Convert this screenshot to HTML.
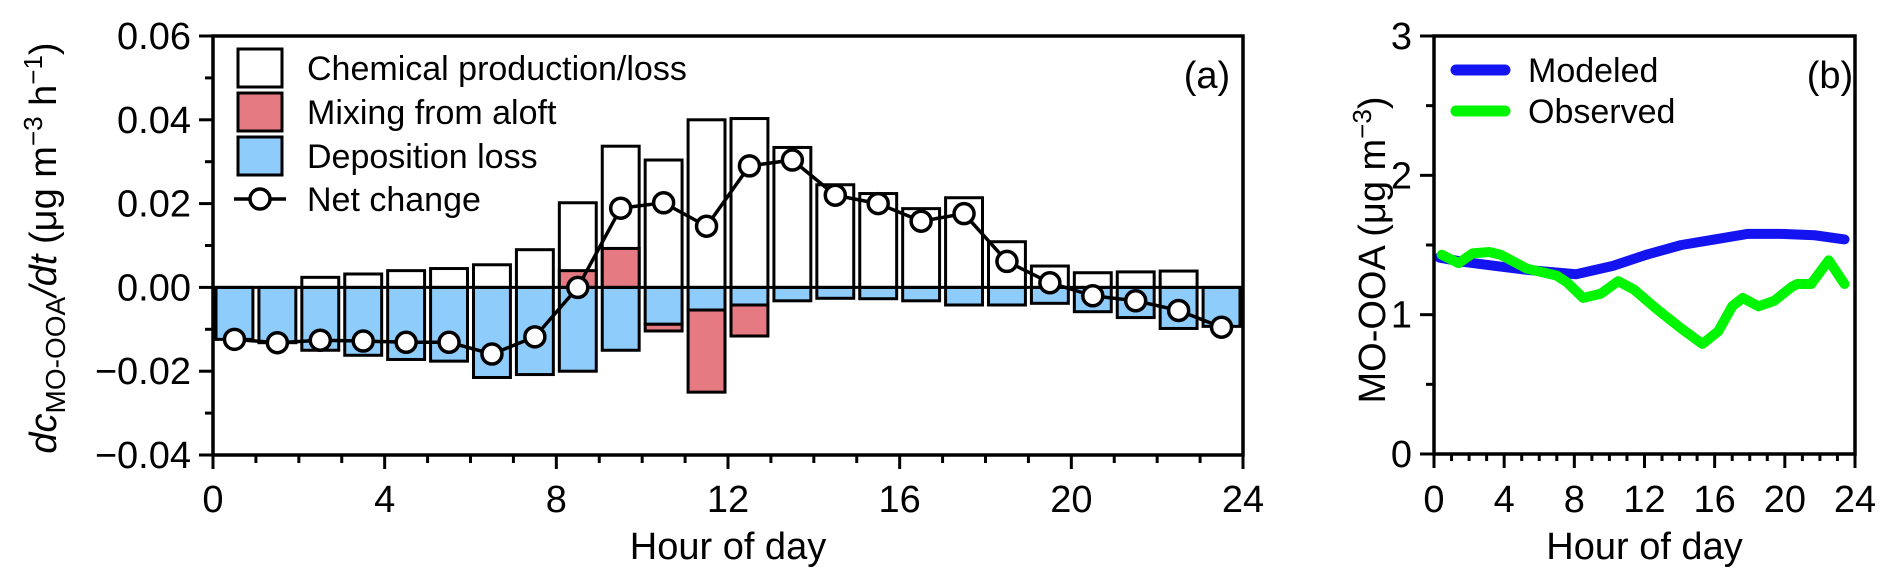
<!DOCTYPE html>
<html><head><meta charset="utf-8"><style>
html,body{margin:0;padding:0;background:#fff;}
svg{display:block;font-family:"Liberation Sans",Arial,sans-serif;}
</style></head><body>
<svg id="chart" width="1892" height="585" viewBox="0 0 1892 585" xmlns="http://www.w3.org/2000/svg"></svg>
<script>
// ---------- Panel (a) data ----------
const hoursA = [0,1,2,3,4,5,6,7,8,9,10,11,12,13,14,15,16,17,18,19,20,21,22,23];
const chemValues = [0,0,0.0024,0.0032,0.004,0.0045,0.0054,0.009,0.0202,0.0337,0.0304,0.040,0.0403,0.0334,0.0245,0.0224,0.0188,0.0214,0.0109,0.0051,0.0035,0.0037,0.0039,0];
const mixValues = [0,0,0,0,0,0,0,0,0.004,0.0093,-0.0016,-0.0196,-0.0074,0,0,0,0,0,0,0,0,0,0,0];
const depValues = [-0.0124,-0.0132,-0.015,-0.0162,-0.0172,-0.0176,-0.0215,-0.0208,-0.020,-0.015,-0.0088,-0.0054,-0.0042,-0.0032,-0.0026,-0.0027,-0.0032,-0.0042,-0.0042,-0.0038,-0.0058,-0.0072,-0.0098,-0.0093];
const netValues = [-0.0124,-0.0132,-0.0126,-0.0128,-0.0131,-0.0131,-0.0159,-0.0118,0,0.0189,0.0202,0.0146,0.029,0.0304,0.022,0.020,0.0158,0.0176,0.0062,0.0011,-0.002,-0.0032,-0.0055,-0.0095];
const yTicksA = ["−0.04","−0.02","0.00","0.02","0.04","0.06"];
const yTickValsA = [-0.04,-0.02,0,0.02,0.04,0.06];
const xTicksA = [0,4,8,12,16,20,24];
// ---------- Panel (b) data ----------
const modHours = [0.3,1.6,3.5,5.4,8.1,10.2,12.1,14.1,16,17.9,19.8,21.7,23.4];
const modValues = [1.41,1.38,1.35,1.32,1.29,1.35,1.43,1.5,1.54,1.58,1.58,1.57,1.54];
const obsHours = [0.44,1.4,2.2,3.15,3.8,5.3,7,7.6,8.5,9.5,10.5,11.4,12.7,14.1,15.3,16.2,17,17.6,18.5,19.4,20.4,20.7,21.5,22.5,23.4];
const obsValues = [1.43,1.37,1.44,1.45,1.43,1.33,1.28,1.23,1.12,1.15,1.24,1.18,1.04,0.9,0.79,0.88,1.06,1.12,1.06,1.1,1.2,1.22,1.22,1.39,1.22];
const yTicksB = [0,1,2,3];
const xTicksB = [0,4,8,12,16,20,24];

const NS="http://www.w3.org/2000/svg";
const svg=document.getElementById('chart');
function mk(tag,attrs,parent){const e=document.createElementNS(NS,tag);for(const k in attrs)e.setAttribute(k,attrs[k]);(parent||svg).appendChild(e);return e;}
const FS=38;

// Panel a axes
const aL=213,aR=1243,aT=36,aB=455;
const xA=h=>aL+h*(aR-aL)/24;
const yA=v=>aB-(v+0.04)*(aB-aT)/0.10;
const bw=(aR-aL)/24*0.86;
const gA=mk('g',{});



hoursA.forEach((h,i)=>{
  const cx=xA(h+0.5);
  const d=mk('rect',{x:cx-bw/2,y:yA(0),width:bw,height:yA(depValues[i])-yA(0),fill:'#8ecdfb',stroke:'#000','stroke-width':3},gA);
  
  
  if(chemValues[i]>0){
    const c=mk('rect',{x:cx-bw/2,y:yA(chemValues[i]),width:bw,height:yA(0)-yA(chemValues[i]),fill:'#fff',stroke:'#000','stroke-width':3},gA);
    
    
  }
  const m=mixValues[i];
  if(m>0){
    const r=mk('rect',{x:cx-bw/2,y:yA(m),width:bw,height:yA(0)-yA(m),fill:'#e67a82',stroke:'#000','stroke-width':3},gA);
    
    
  } else if(m<0){
    const base=depValues[i];
    const r=mk('rect',{x:cx-bw/2,y:yA(base),width:bw,height:yA(base+m)-yA(base),fill:'#e67a82',stroke:'#000','stroke-width':3},gA);
    
    
  }
});
mk('line',{x1:aL,x2:aR,y1:yA(0),y2:yA(0),stroke:'#000','stroke-width':3},gA);
const netPts=hoursA.map((h,i)=>xA(h+0.5)+','+yA(netValues[i])).join(' ');
const nl=mk('polyline',{points:netPts,fill:'none',stroke:'#000','stroke-width':3.5},gA);


hoursA.forEach((h,i)=>{
  const c=mk('circle',{cx:xA(h+0.5),cy:yA(netValues[i]),r:10,fill:'#fff',stroke:'#000','stroke-width':3.5},gA);
  
  
});
mk('rect',{x:aL,y:aT,width:aR-aL,height:aB-aT,fill:'none',stroke:'#000','stroke-width':3.5},gA);
yTickValsA.forEach((v,i)=>{
  mk('line',{x1:aL-14,x2:aL,y1:yA(v),y2:yA(v),stroke:'#000','stroke-width':3},gA);
  const t=mk('text',{x:aL-22,y:yA(v)+13,'text-anchor':'end','font-size':FS},gA);
  t.textContent=yTicksA[i];
  
  
  if(i<yTickValsA.length-1) mk('line',{x1:aL-8,x2:aL,y1:yA(v+0.01),y2:yA(v+0.01),stroke:'#000','stroke-width':3},gA);
});
for(let h=0;h<=24;h++){
  const major=h%4===0;
  mk('line',{x1:xA(h),x2:xA(h),y1:aB,y2:aB+(major?14:8),stroke:'#000','stroke-width':3},gA);
}
xTicksA.forEach(h=>{
  const t=mk('text',{x:xA(h),y:512,'text-anchor':'middle','font-size':FS},gA);
  t.textContent=h;
  
  
});
let t=mk('text',{x:(aL+aR)/2,y:559,'text-anchor':'middle','font-size':FS},gA);
t.textContent='Hour of day';


const yt=mk('text',{transform:'translate(56,248) rotate(-90)','text-anchor':'middle','font-size':FS},gA);


yt.innerHTML='<tspan font-style="italic">dc</tspan><tspan font-size="28" dy="9">MO-OOA</tspan><tspan dy="-9" font-style="italic">/dt</tspan><tspan> (μg m</tspan><tspan font-size="26" dy="-14">−3</tspan><tspan dy="14"> h</tspan><tspan font-size="26" dy="-14">−1</tspan><tspan dy="14">)</tspan>';
t=mk('text',{x:1207,y:88,'text-anchor':'middle','font-size':FS},gA);
t.textContent='(a)';


const legA=mk('g',{},gA);


const legItems=[['Chemical production/loss','#fff'],['Mixing from aloft','#e67a82'],['Deposition loss','#8ecdfb']];
legItems.forEach((it,i)=>{
  const cy=68+i*44;
  mk('rect',{x:238,y:cy-19,width:44,height:38,fill:it[1],stroke:'#000','stroke-width':3},legA);
  const tt=mk('text',{x:307,y:cy+12,'font-size':34},legA);
  tt.textContent=it[0];
  
  
});
mk('line',{x1:234,x2:286,y1:199,y2:199,stroke:'#000','stroke-width':3.5},legA);
mk('circle',{cx:260,cy:199,r:10,fill:'#fff',stroke:'#000','stroke-width':3.5},legA);
t=mk('text',{x:307,y:211,'font-size':34},legA);
t.textContent='Net change';



// Panel b
const bL=1434,bR=1855,bT=36,bB=454;
const xB=h=>bL+h*(bR-bL)/24;
const yB=v=>bB-v*(bB-bT)/3;
const gB=mk('g',{});


const mp=mk('polyline',{points:modHours.map((h,i)=>xB(h)+','+yB(modValues[i])).join(' '),fill:'none',stroke:'#1414f0','stroke-width':10,'stroke-linecap':'round','stroke-linejoin':'round'},gB);


const op=mk('polyline',{points:obsHours.map((h,i)=>xB(h)+','+yB(obsValues[i])).join(' '),fill:'none',stroke:'#00f500','stroke-width':10,'stroke-linecap':'round','stroke-linejoin':'round'},gB);


mk('rect',{x:bL,y:bT,width:bR-bL,height:bB-bT,fill:'none',stroke:'#000','stroke-width':3.5},gB);
yTicksB.forEach(v=>{
  mk('line',{x1:bL-14,x2:bL,y1:yB(v),y2:yB(v),stroke:'#000','stroke-width':3},gB);
  const tt=mk('text',{x:bL-22,y:yB(v)+13,'text-anchor':'end','font-size':FS},gB);
  tt.textContent=v;
  
  
  if(v<3) mk('line',{x1:bL-8,x2:bL,y1:yB(v+0.5),y2:yB(v+0.5),stroke:'#000','stroke-width':3},gB);
});
for(let h=0;h<=24;h++){
  const major=h%4===0;
  mk('line',{x1:xB(h),x2:xB(h),y1:bB,y2:bB+(major?14:7),stroke:'#000','stroke-width':3},gB);
}
xTicksB.forEach(h=>{
  const tt=mk('text',{x:xB(h),y:512,'text-anchor':'middle','font-size':FS},gB);
  tt.textContent=h;
  
  
});
t=mk('text',{x:(bL+bR)/2,y:559,'text-anchor':'middle','font-size':FS},gB);
t.textContent='Hour of day';


const yb=mk('text',{transform:'translate(1385,250) rotate(-90)','text-anchor':'middle','font-size':FS},gB);


yb.innerHTML='<tspan>MO-OOA (μg m</tspan><tspan font-size="26" dy="-14">−3</tspan><tspan dy="14">)</tspan>';
t=mk('text',{x:1830,y:88,'text-anchor':'middle','font-size':FS},gB);
t.textContent='(b)';


const legB=mk('g',{},gB);


[['Modeled','#1414f0',70],['Observed','#00f500',111]].forEach(it=>{
  mk('line',{x1:1456,x2:1505,y1:it[2],y2:it[2],stroke:it[1],'stroke-width':11,'stroke-linecap':'round'},legB);
  const tt=mk('text',{x:1528,y:it[2]+12,'font-size':34},legB);
  tt.textContent=it[0];
  
  
});
</script>
</body></html>
